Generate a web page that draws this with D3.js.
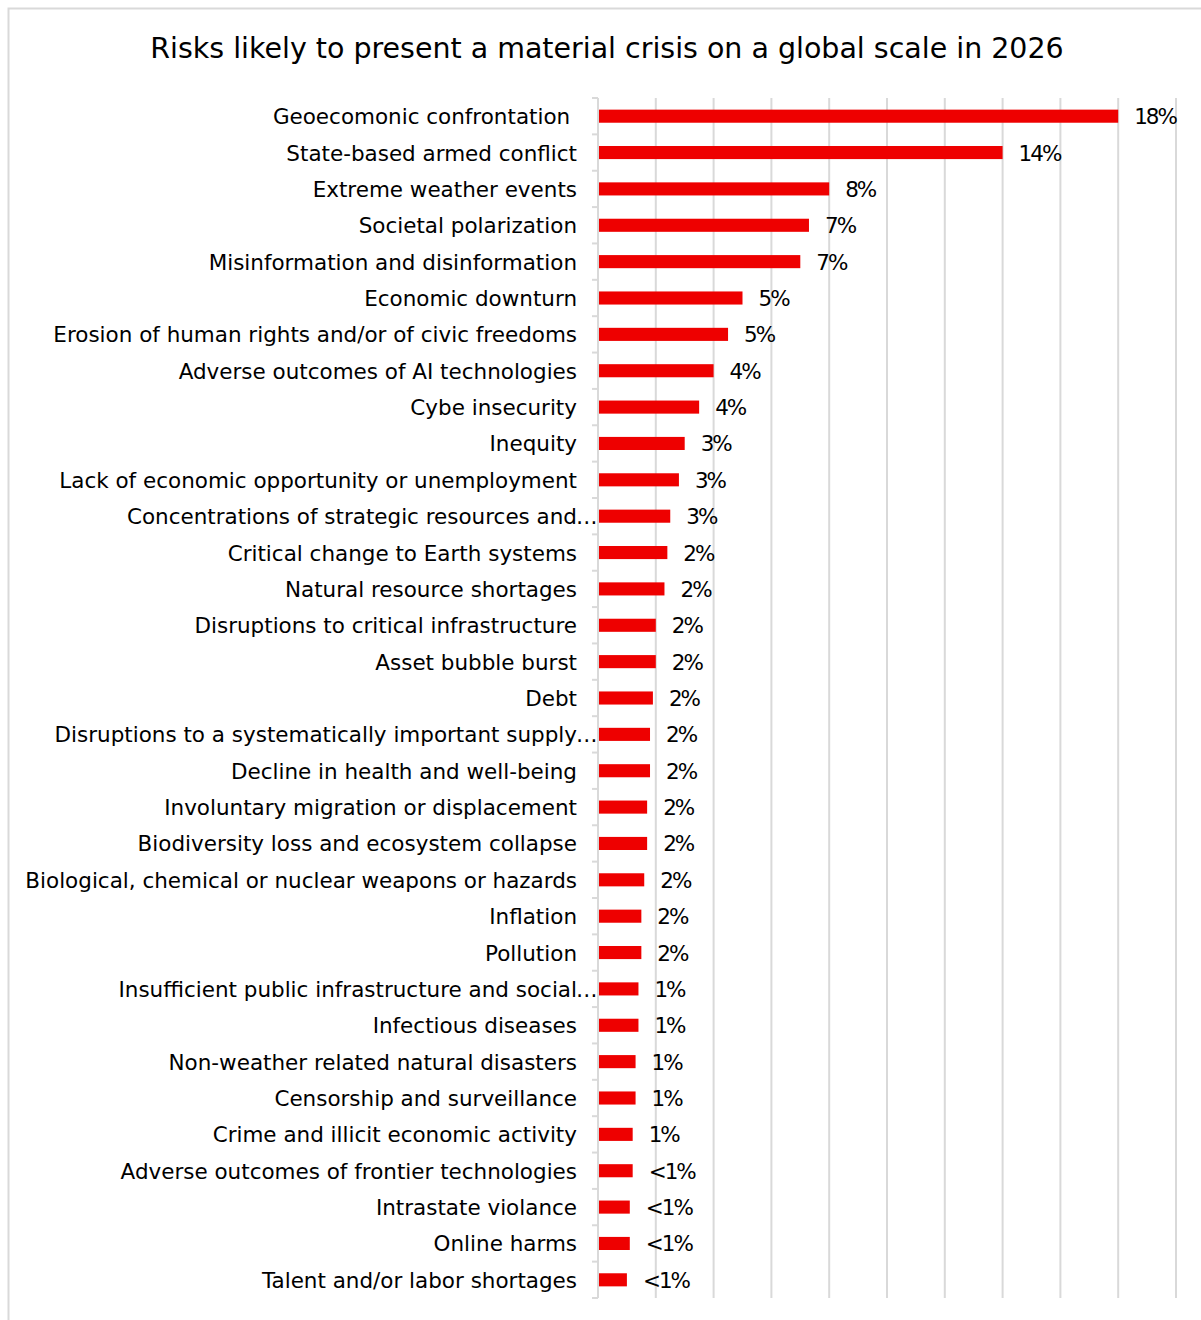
<!DOCTYPE html>
<html>
<head>
<meta charset="utf-8">
<script src="https://cdn.jsdelivr.net/npm/d3@7"></script>
<style>
  body { margin: 0; background: #fff; }
  svg text { font-family: "DejaVu Sans", sans-serif; fill: #000; white-space: pre; }
</style>
</head>
<body>
<div class="chart"></div>
<script>
// data
const risks = [
  "Geoecomonic confrontation ",
  "State-based armed conflict",
  "Extreme weather events",
  "Societal polarization",
  "Misinformation and disinformation",
  "Economic downturn",
  "Erosion of human rights and/or of civic freedoms",
  "Adverse outcomes of AI technologies",
  "Cybe insecurity",
  "Inequity",
  "Lack of economic opportunity or unemployment",
  "Concentrations of strategic resources and…",
  "Critical change to Earth systems",
  "Natural resource shortages",
  "Disruptions to critical infrastructure",
  "Asset bubble burst",
  "Debt",
  "Disruptions to a systematically important supply…",
  "Decline in health and well-being",
  "Involuntary migration or displacement",
  "Biodiversity loss and ecosystem collapse",
  "Biological, chemical or nuclear weapons or hazards",
  "Inflation",
  "Pollution",
  "Insufficient public infrastructure and social…",
  "Infectious diseases",
  "Non-weather related natural disasters",
  "Censorship and surveillance",
  "Crime and illicit economic activity",
  "Adverse outcomes of frontier technologies",
  "Intrastate violance",
  "Online harms",
  "Talent and/or labor shortages"
];
const shares = [18, 14, 8, 7.3, 7, 5, 4.5, 4, 3.5, 3, 2.8, 2.5, 2.4, 2.3, 2, 2, 1.9, 1.8, 1.8,
  1.7, 1.7, 1.6, 1.5, 1.5, 1.4, 1.4, 1.3, 1.3, 1.2, 1.2, 1.1, 1.1, 1.0];
const shareLabels = ["18%", "14%", "8%", "7%", "7%", "5%", "5%", "4%", "4%", "3%", "3%", "3%",
  "2%", "2%", "2%", "2%", "2%", "2%", "2%", "2%", "2%", "2%", "2%", "2%", "1%", "1%", "1%", "1%",
  "1%", "<1%", "<1%", "<1%", "<1%"];
const xTicks = [0, 2, 4, 6, 8, 10, 12, 14, 16, 18, 20];
const title = "Risks likely to present a material crisis on a global scale in 2026";

const W = 1201, H = 1320;
const plot = {left: 598, right: 1176, top: 98, bottom: 1298};

const svg = d3.select(".chart").append("svg")
  .attr("width", W)
  .attr("height", H);

// frame
svg.append("rect")
  .attr("x", 8.5).attr("y", 8.5)
  .attr("width", 1200).attr("height", 1330)
  .attr("fill", "none")
  .attr("stroke", "#d9d9d9")
  .attr("stroke-width", 2);

// fit a text to a width measured on the reference
function fitWidth(sel, target, base) {
  const w = sel.node().getComputedTextLength();
  return base * target / w;
}

const titleText = svg.append("text")
  .attr("x", 607).attr("y", 58)
  .attr("text-anchor", "middle")
  .style("font-size", "26px")
  .text(title);
titleText.style("font-size", fitWidth(titleText, 914, 26) + "px");

const xScale = d3.scaleLinear().domain([0, 20]).range([plot.left, plot.right]);
const yScale = d3.scaleBand().domain(risks).range([plot.top, plot.bottom]).paddingInner(0.64).paddingOuter(0.32);

// gridlines
svg.append("g")
  .selectAll("line")
  .data(xTicks.slice(1))
  .join("line")
  .attr("x1", d => xScale(d)).attr("x2", d => xScale(d))
  .attr("y1", plot.top).attr("y2", plot.bottom)
  .attr("stroke", "#d9d9d9")
  .attr("stroke-width", 2);

// category axis
const step = (plot.bottom - plot.top) / risks.length;
const yAxis = svg.append("g").attr("class", "yAxis");
yAxis.append("line")
  .attr("x1", plot.left).attr("x2", plot.left)
  .attr("y1", plot.top).attr("y2", plot.bottom)
  .attr("stroke", "#d9d9d9").attr("stroke-width", 2);
yAxis.selectAll(".tick")
  .data(d3.range(risks.length + 1))
  .join("line")
  .attr("class", "tick")
  .attr("x1", plot.left - 6).attr("x2", plot.left)
  .attr("y1", i => plot.top + i * step).attr("y2", i => plot.top + i * step)
  .attr("stroke", "#d9d9d9").attr("stroke-width", 2);

const mid = d => yScale(d) + yScale.bandwidth() / 2;

// label size from the longest label (25 -> 577 on the reference)
const probe = svg.append("text").style("font-size", "20px")
  .text("Biological, chemical or nuclear weapons or hazards");
const labelSize = fitWidth(probe, 552, 20);
probe.remove();

// category labels, ellipsis hangs past the label edge like in the source
const labels = svg.append("g").selectAll("g")
  .data(risks)
  .join("g");
labels.append("text")
  .attr("x", 577)
  .attr("y", d => mid(d) + 8)
  .attr("text-anchor", "end")
  .style("font-size", labelSize + "px")
  .text(d => d.replace("…", ""));
labels.filter(d => d.endsWith("…"))
  .append("text")
  .attr("x", 576)
  .attr("y", d => mid(d) + 8)
  .style("font-size", labelSize + "px")
  .style("letter-spacing", "-1px")
  .text("…");

// bars
svg.append("g")
  .selectAll("rect")
  .data(risks)
  .join("rect")
  .attr("x", xScale(0) + 1)
  .attr("y", d => yScale(d))
  .attr("width", (d, i) => xScale(shares[i]) - xScale(0) - 1)
  .attr("height", yScale.bandwidth())
  .attr("fill", "#ee0000");

// value labels
svg.append("g")
  .selectAll("text")
  .data(risks)
  .join("text")
  .attr("x", (d, i) => xScale(shares[i]) + 16)
  .attr("y", d => mid(d) + 8)
  .style("font-size", labelSize + "px")
  .style("letter-spacing", "-2px")
  .text((d, i) => shareLabels[i]);
</script>
</body>
</html>
